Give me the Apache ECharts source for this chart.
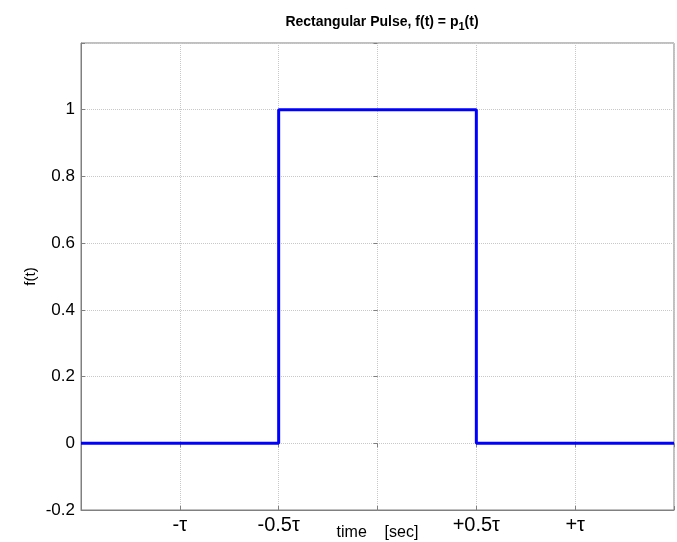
<!DOCTYPE html>
<html><head><meta charset="utf-8">
<script src="https://cdn.jsdelivr.net/npm/echarts@6/dist/echarts.min.js"></script>
<style>html,body{margin:0;padding:0;background:#fff}#c{width:677px;height:542px}</style>
</head><body><div id="c"></div>
<script>
var tValues = [-1.5, -0.5, -0.5, -0.5, 0.5, 0.5, 0.5, 1.5];
var fValues = [0, 0, 0.5, 1, 1, 0.5, 0, 0];
var xTickValues = [-1, -0.5, 0, 0.5, 1];
var xTickLabels = ['-\u03c4', '-0.5\u03c4', '', '+0.5\u03c4', '+\u03c4'];
var yTickLabels = ['-0.2', '0', '0.2', '0.4', '0.6', '0.8', '1', ''];

var chart = echarts.init(document.getElementById('c'));
var font = 'Liberation Sans, Arial, sans-serif';
function xLab(v) {
  for (var i = 0; i < xTickValues.length; i++) if (Math.abs(v - xTickValues[i]) < 1e-6) return xTickLabels[i];
  return '';
}
function yLab(v) {
  var idx = Math.round((v + 0.2) / 0.2);
  return yTickLabels[idx] || '';
}
var data = tValues.map(function (t, i) { return [t, fValues[i]]; });
var gridLine = { show: true, lineStyle: { color: '#c8c8c8', type: 'dotted', width: 1 } };
chart.setOption({
  animation: false,
  title: {
    text: 'Rectangular Pulse, f(t) = p{s|1}(t)',
    left: 377, top: 8, textAlign: 'center',
    textStyle: { fontFamily: font, fontSize: 14, fontWeight: 'bold', color: '#000',
      rich: { s: { fontFamily: font, fontSize: 11, fontWeight: 'bold', verticalAlign: 'bottom', padding: [8, 0, 0, 0], color: '#000' } } }
  },
  grid: { left: 81, right: 3, top: 43, bottom: 32, show: true, borderColor: '#808080', borderWidth: 1, containLabel: false, outerBoundsMode: 'none' },
  xAxis: [{
    type: 'value', min: -1.5, max: 1.5, interval: 0.5,
    name: 'time    [sec]', nameLocation: 'middle', nameGap: 15, nameMoveOverlap: false,
    nameTextStyle: { fontFamily: font, fontSize: 16, color: '#000' },
    axisLine: { show: true, onZero: false, lineStyle: { color: '#808080' } },
    axisTick: { show: true, inside: true, length: 4, lineStyle: { color: '#808080' } },
    axisLabel: { formatter: xLab, fontFamily: font, fontSize: 20, color: '#000', margin: 5, showMinLabel: true, showMaxLabel: true },
    splitLine: gridLine
  }, {
    type: 'value', position: 'top', min: -1.5, max: 1.5, interval: 0.5,
    axisLine: { show: false }, axisLabel: { show: false }, splitLine: { show: false },
    axisTick: { show: true, inside: true, length: 4, lineStyle: { color: '#808080' } }
  }],
  yAxis: [{
    type: 'value', min: -0.2, max: 1.2, interval: 0.2,
    name: 'f(t)', nameLocation: 'middle', nameGap: 43, nameRotate: 90, nameMoveOverlap: false,
    nameTextStyle: { fontFamily: font, fontSize: 15, color: '#000' },
    axisLine: { show: true, onZero: false, lineStyle: { color: '#808080' } },
    axisTick: { show: true, inside: true, length: 4, lineStyle: { color: '#808080' } },
    axisLabel: { formatter: yLab, fontFamily: font, fontSize: 17, color: '#000', margin: 6 },
    splitLine: gridLine
  }, {
    type: 'value', position: 'right', min: -0.2, max: 1.2, interval: 0.2,
    axisLine: { show: false }, axisLabel: { show: false }, splitLine: { show: false },
    axisTick: { show: true, inside: true, length: 4, lineStyle: { color: '#808080' } }
  }],
  series: [{
    type: 'line', data: data, symbol: 'none', clip: false,
    lineStyle: { color: '#0000ff', width: 3 }
  }]
});
</script></body></html>
